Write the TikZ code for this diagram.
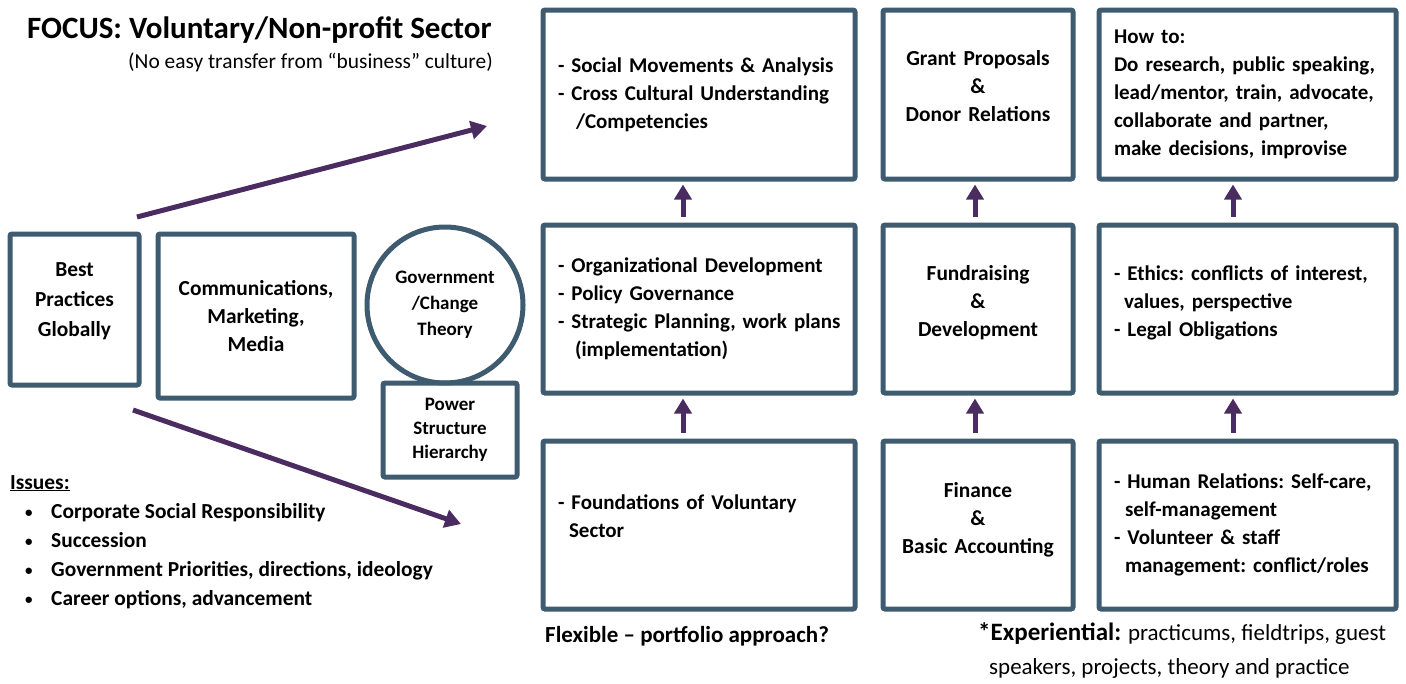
\documentclass[tikz,border=0pt]{standalone}
\usepackage{fontspec}
\setmainfont{Carlito}
\usetikzlibrary{positioning}
\usetikzlibrary{arrows.meta}
\definecolor{boxborder}{HTML}{3E5B70}
\definecolor{arrowpurple}{HTML}{4A2C61}
\colorlet{annotation}{black}
\newcommand\boxfont{\fontsize{21.4}{28}\selectfont\bfseries\frenchspacing}
\newcommand\listfont{\fontsize{21}{28}\selectfont\bfseries\frenchspacing}
\newcommand\smallboxfont{\fontsize{19}{24}\selectfont\bfseries}
\newcommand\issuebullet{\makebox[41pt][l]{\hspace{15pt}\raisebox{1pt}{\fontsize{15}{15}\selectfont\textbullet}}}

\begin{document}
\begin{tikzpicture}[x=1pt, y=-1pt]
    \useasboundingbox (0,0) rectangle (1406,683);

    \tikzset{
        slate box/.style={
            draw=boxborder, line width=5pt,
            rounded corners=2,
            inner sep=0pt,
            font=\boxfont,
        },
        list box/.style={
            slate box, align=left,
            inner xsep=15pt, font=\listfont,
        },
        centre box/.style={
            slate box, align=center,
        },
        lifted/.style={
            execute at end node={\\[#1]\mbox{}},
        },
        plain text/.style={
            inner sep=0pt, annotation,
        },
        up arrow/.style={
            arrowpurple, line width=5pt,
            -{Triangle[length=15pt, width=17pt]},
            shorten <=6pt, shorten >=3pt,
        },
        side arrow/.style={
            arrowpurple, line width=5pt,
            -{Triangle[length=16pt, width=18pt]},
        },
    }

    % Heading
    \node[plain text, anchor=west, font=\fontsize{31}{36}\selectfont\bfseries]
        (focus) at (27,30) {FOCUS: Voluntary/Non-profit Sector};
    \node[plain text, anchor=east, font=\fontsize{21.4}{25}\selectfont]
        (culture) at (493,62) {(No easy transfer from “business” culture)};

    % Left side
    \node[centre box, minimum width=129pt, text width=129pt, minimum height=151pt, lifted=-11pt,
        font=\fontsize{21.4}{30}\selectfont\bfseries]
        (best) at (74.5,309.5) {Best\\Practices\\Globally};
    \node[centre box, minimum width=196pt, minimum height=164pt]
        (media) at (256,316) {Communications,\\Marketing,\\Media};
    \node[centre box, circle, minimum size=156pt, font=\fontsize{19}{26}\selectfont\bfseries]
        (government) at (445,305) {Government\\/Change\\Theory};
    \node[centre box, minimum width=134pt, minimum height=94pt, font=\smallboxfont]
        (power) at (450,430) {Power\\Structure\\Hierarchy};

    % Columns, top row
    \node[list box, minimum width=312pt, text width=282pt, minimum height=169pt]
        (movements) at (699,94.5)
        {- Social Movements \& Analysis\\- Cross Cultural Understanding\\\hspace*{18pt}/Competencies};
    \node[centre box, minimum width=190pt, text width=190pt, minimum height=169pt, lifted=-10pt]
        (grants) at (978,94.5) {Grant Proposals\\\&\\Donor Relations};
    \node[list box, minimum width=297pt, text width=267pt, minimum height=169pt]
        (howto) at (1247.5,94.5)
        {How to:\\Do research, public speaking,\\lead/mentor, train, advocate,\\collaborate and partner,\\make decisions, improvise};

    % Columns, middle row
    \node[list box, minimum width=312pt, text width=282pt, minimum height=168pt]
        (organization) at (699,309)
        {- Organizational Development\\- Policy Governance\\\mbox{- Strategic Planning, work plans}\\\hspace*{17pt}(implementation)};
    \node[centre box, minimum width=190pt, text width=190pt, minimum height=168pt, lifted=-11pt]
        (fundraising) at (978,309) {Fundraising\\\&\\Development};
    \node[list box, minimum width=297pt, text width=267pt, minimum height=168pt, lifted=-12pt]
        (ethics) at (1247.5,309)
        {- Ethics: conflicts of interest,\\\hspace*{10pt}values, perspective\\- Legal Obligations};

    % Columns, bottom row
    \node[list box, minimum width=312pt, text width=282pt, minimum height=168pt, lifted=-10pt]
        (foundations) at (699,525)
        {- Foundations of Voluntary\\\hspace*{11pt}Sector};
    \node[centre box, minimum width=190pt, text width=190pt, minimum height=168pt, lifted=-13pt]
        (finance) at (978,525) {Finance\\\&\\Basic Accounting};
    \node[list box, minimum width=297pt, text width=267pt, minimum height=168pt]
        (relations) at (1247.5,525)
        {- Human Relations: Self-care,\\\hspace*{11pt}self-management\\- Volunteer \& staff\\\hspace*{11pt}management: conflict/roles};

    % Upward arrows
    \foreach \lower/\upper/\dx in {
        organization/movements/-16, foundations/organization/-16,
        fundraising/grants/-3, finance/fundraising/-3,
        ethics/howto/-14.5, relations/ethics/-14.5}
        \draw[up arrow] ([xshift=\dx pt]\lower.north) -- ([xshift=\dx pt]\upper.south);

    % Arrows out of best practices
    \coordinate (upper-start) at (137,217);
    \coordinate (upper-end) at (487,126);
    \coordinate (lower-start) at (133,410);
    \coordinate (lower-end) at (461,524);
    \draw[side arrow] (upper-start) -- (upper-end);
    \draw[side arrow] (lower-start) -- (lower-end);

    % Issues
    \node[plain text, anchor=north west, align=left, font=\fontsize{21.4}{29}\selectfont\bfseries]
        (issues) at (10,475)
        {\underline{Issues:}\\
        \issuebullet Corporate Social Responsibility\\
        \issuebullet Succession\\
        \issuebullet Government Priorities, directions, ideology\\
        \issuebullet Career options, advancement};

    % Notes under the columns
    \node[plain text, anchor=west, font=\fontsize{23}{28}\selectfont\bfseries]
        (flexible) at (545,636) {Flexible – portfolio approach?};
    \node[plain text, anchor=north west, align=left, font=\fontsize{23}{34}\selectfont]
        (experiential) at (978,622)
        {{\fontsize{25}{34}\selectfont\bfseries *Experiential:} practicums, fieldtrips, guest\\\hspace*{11pt}speakers, projects, theory and practice};
\end{tikzpicture}
\end{document}
